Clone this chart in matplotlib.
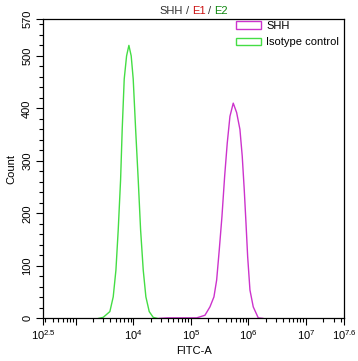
#!/usr/bin/env python3
"""
Flow cytometry overlay histogram: SHH vs isotype control (FITC-A).
"""

import numpy as np
import matplotlib
matplotlib.use("Agg")
import matplotlib.pyplot as plt
from matplotlib.patches import Patch
from matplotlib.offsetbox import TextArea, HPacker, AnchoredOffsetbox

# curve samples: x in log10(FITC-A), y = count
iso_log = [3.40, 3.479, 3.595, 3.653, 3.700, 3.740, 3.781, 3.809, 3.844, 3.885,
           3.925, 3.965, 4.000, 4.042, 4.087, 4.128, 4.174, 4.220, 4.278, 4.347, 4.42]
iso_count = [0, 2, 13, 41, 92, 169, 264, 360, 456, 500,
             520, 500, 456, 360, 264, 169, 92, 41, 13, 2, 0]

shh_log = [4.45, 4.60, 4.80, 5.00, 5.101, 5.245, 5.332, 5.401, 5.448, 5.493,
           5.540, 5.587, 5.632, 5.679, 5.736, 5.795, 5.852, 5.892, 5.927,
           5.957, 5.986, 6.026, 6.083, 6.170, 6.25]
shh_count = [0, 1, 1, 1, 1, 6, 22, 41, 73, 130,
             194, 271, 334, 385, 410, 392, 360, 309, 245,
             182, 118, 54, 22, 1, 0]

labels = ["SHH", "Isotype control"]
colors = ["#cc33cc", "#44dd44"]

title_parts = [("SHH", "#333333"), ("/", "#333333"), ("E1", "#cc1111"),
               ("/", "#333333"), ("E2", "#118811")]

x_lo, x_hi = 2.44, 7.665
x_ticks = [x_lo, 3, 4, 5, 6, 7, x_hi]
x_ticklabels = ["10$^{2.5}$", "", "10$^{4}$", "10$^{5}$", "10$^{6}$",
                "10$^{7}$", "10$^{7.6}$"]
y_ticks = [0, 100, 200, 300, 400, 500, 570]


def main():
    plt.rcParams["font.family"] = ["Liberation Sans", "DejaVu Sans"]
    plt.rcParams["mathtext.fontset"] = "custom"
    plt.rcParams["mathtext.rm"] = "Liberation Sans"
    plt.rcParams["mathtext.it"] = "Liberation Sans"
    plt.rcParams["font.size"] = 8

    fig = plt.figure(figsize=(3.58, 3.61), dpi=100)
    ax = fig.add_axes([0.121, 0.118, 0.841, 0.829])

    ax.plot(10 ** np.array(shh_log), shh_count, color=colors[0], lw=1)
    ax.plot(10 ** np.array(iso_log), iso_count, color=colors[1], lw=1)

    ax.set_xscale("log")
    ax.set_xlim(10 ** x_lo, 10 ** x_hi)
    ax.set_ylim(0, 570)

    ax.set_xticks([10 ** t for t in x_ticks])
    ax.set_xticklabels(x_ticklabels)
    minors = []
    for d in range(2, 8):
        for m in range(2, 10):
            v = m * 10 ** d
            if 10 ** x_lo < v < 10 ** x_hi:
                minors.append(v)
    ax.set_xticks(minors, minor=True)

    ax.set_yticks(y_ticks)
    ax.set_yticks(np.arange(0, 571, 20), minor=True)
    for lab in ax.get_yticklabels():
        lab.set_rotation(90)
        lab.set_va("center")

    ax.tick_params(which="major", length=5, width=0.8, direction="out",
                   labelsize=8, colors="black")
    ax.tick_params(which="minor", length=3, width=0.8, direction="out")
    ax.tick_params(axis="x", pad=2)
    ax.tick_params(axis="y", pad=3)
    for sp in ax.spines.values():
        sp.set_linewidth(0.9)

    ax.set_xlabel("FITC-A", fontsize=8, labelpad=3)
    ax.set_ylabel("Count", fontsize=8, labelpad=4)

    # multi-colour title
    boxes = [TextArea(t, textprops=dict(color=c, fontsize=8)) for t, c in title_parts]
    pack = HPacker(children=boxes, align="baseline", pad=0, sep=2)
    ab = AnchoredOffsetbox(loc="lower center", child=pack, pad=0, borderpad=0,
                           frameon=False, bbox_to_anchor=(0.5, 1.012),
                           bbox_transform=ax.transAxes)
    ax.add_artist(ab)

    handles = [Patch(facecolor="none", edgecolor=c, lw=1) for c in colors]
    ax.legend(handles, labels, loc="upper right", frameon=False, fontsize=8,
              handlelength=2.2, handleheight=0.7, handletextpad=0.5,
              labelspacing=0.6, borderaxespad=0.0, borderpad=0.0,
              bbox_to_anchor=(0.983, 0.995))

    fig.savefig("out.png", dpi=100)


if __name__ == "__main__":
    main()
